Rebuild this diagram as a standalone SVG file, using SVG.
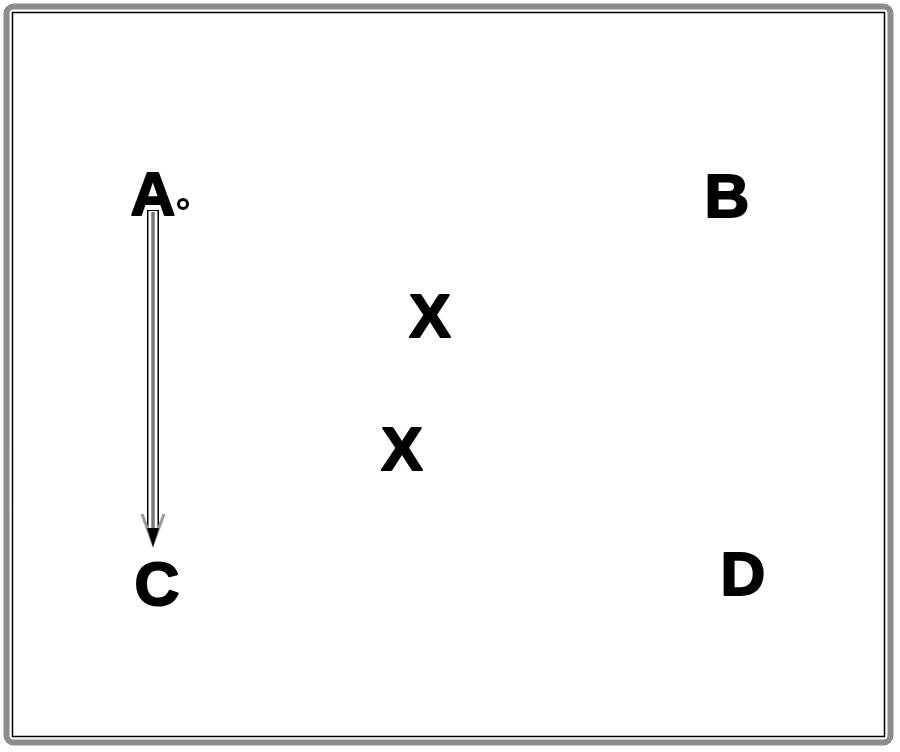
<svg xmlns="http://www.w3.org/2000/svg" width="900" height="752" viewBox="0 0 900 752">
<style>
.lbl{font-family:"Liberation Sans",Arial,sans-serif;font-weight:bold;font-size:62px;fill:#000;stroke:#000;stroke-width:2;stroke-linejoin:round;text-anchor:middle}
</style>
<rect width="900" height="752" fill="#fff"/>
<g id="frame">
<rect x="6.5" y="6.5" width="884" height="736" rx="7" fill="none" stroke="#8c8c8c" stroke-width="6"/>
<rect x="12.5" y="12.5" width="872" height="724" fill="none" stroke="#000" stroke-width="1.5"/>
</g>
<g id="connectors">
<line x1="153" y1="210" x2="153" y2="528" stroke="#000" stroke-width="12"/>
<line x1="153" y1="211" x2="153" y2="529" stroke="#fff" stroke-width="9"/>
<line x1="153" y1="212" x2="153" y2="535" stroke="#777" stroke-width="3.5"/>
<polyline points="142,514 153,544 164,514" fill="none" stroke="#999" stroke-width="3"/>
<polygon points="147,528 159,528 153,547" fill="#000"/>
</g>
<g id="node-A"><text class="lbl" x="153" y="215">A</text><circle cx="183" cy="204" r="4.5" fill="#fff" stroke="#000" stroke-width="3"/></g>
<g id="node-B"><text class="lbl" x="727" y="217">B</text></g>
<g id="node-X1"><text class="lbl" x="430" y="337">X</text></g>
<g id="node-X2"><text class="lbl" x="402" y="470">X</text></g>
<g id="node-C"><text class="lbl" x="157" y="605">C</text></g>
<g id="node-D"><text class="lbl" x="743" y="595">D</text></g>
</svg>
